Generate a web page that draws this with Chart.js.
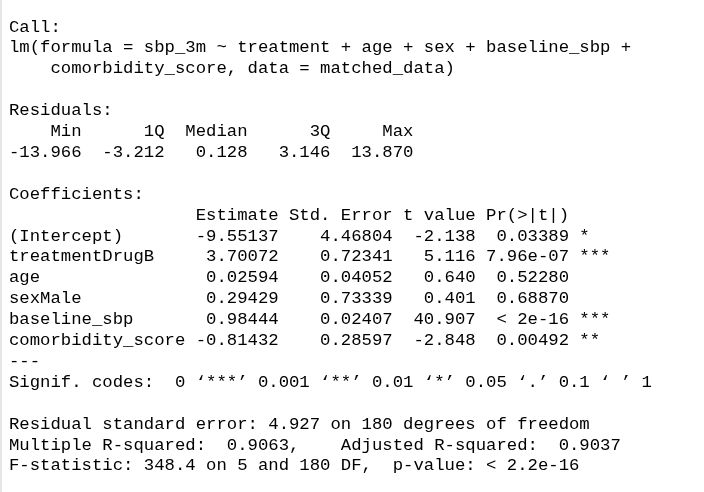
<!DOCTYPE html>
<html>
<head>
<meta charset="utf-8">
<script src="https://cdn.jsdelivr.net/npm/chart.js@4"></script>
<style>
  html, body { margin: 0; padding: 0; background: #fff; }
  #wrap { width: 704px; height: 492px; border-left: 2px solid #e6e6e6; box-sizing: border-box; }
</style>
</head>
<body>
<div id="wrap"><canvas id="out" width="702" height="492"></canvas></div>
<script>
const residLabels = ['Min', '1Q', 'Median', '3Q', 'Max'];
const residValues = ['-13.966', '-3.212', '0.128', '3.146', '13.870'];

const terms = ['(Intercept)', 'treatmentDrugB', 'age', 'sexMale', 'baseline_sbp', 'comorbidity_score'];
const estimates = ['-9.55137', '3.70072', '0.02594', '0.29429', '0.98444', '-0.81432'];
const stdErrors = ['4.46804', '0.72341', '0.04052', '0.73339', '0.02407', '0.28597'];
const tValues = ['-2.138', '5.116', '0.640', '0.401', '40.907', '-2.848'];
const pValues = ['0.03389', '7.96e-07', '0.52280', '0.68870', '< 2e-16', '0.00492'];
const stars = ['*', '***', '', '', '***', '**'];

const footer = [
  'Signif. codes:  0 \u2018***\u2019 0.001 \u2018**\u2019 0.01 \u2018*\u2019 0.05 \u2018.\u2019 0.1 \u2018 \u2019 1',
  '',
  'Residual standard error: 4.927 on 180 degrees of freedom',
  'Multiple R-squared:  0.9063,\tAdjusted R-squared:  0.9037 ',
  'F-statistic: 348.4 on 5 and 180 DF,  p-value: < 2.2e-16'
];

function buildLines() {
  const lines = [
    'Call:',
    'lm(formula = sbp_3m ~ treatment + age + sex + baseline_sbp + ',
    '    comorbidity_score, data = matched_data)',
    '',
    'Residuals:',
    residLabels.map(s => s.padStart(7)).join(' '),
    residValues.map(s => s.padStart(7)).join(' '),
    '',
    'Coefficients:',
    ''.padEnd(17) + 'Estimate'.padStart(9) + 'Std. Error'.padStart(11) + 't value'.padStart(8) + 'Pr(>|t|)'.padStart(9)
  ];
  terms.forEach((t, i) => {
    lines.push(t.padEnd(17) + estimates[i].padStart(9) + stdErrors[i].padStart(11) +
      tValues[i].padStart(8) + pValues[i].padStart(9) + ' ' + stars[i]);
  });
  lines.push('---');
  return lines.concat(footer).map(l => l.replace('\t', '    '));
}

const textPlugin = {
  id: 'consoleText',
  afterDraw(chart) {
    const ctx = chart.ctx;
    ctx.save();
    ctx.fillStyle = '#000';
    ctx.font = '17.3px "Liberation Mono", "DejaVu Sans Mono", monospace';
    ctx.textBaseline = 'middle';
    buildLines().forEach((l, i) => ctx.fillText(l, 7, 27 + i * 20.9));
    ctx.restore();
  }
};

new Chart(document.getElementById('out').getContext('2d'), {
  type: 'scatter',
  data: { datasets: [] },
  options: {
    responsive: false,
    animation: false,
    plugins: { legend: { display: false }, tooltip: { enabled: false } },
    scales: { x: { display: false }, y: { display: false } }
  },
  plugins: [textPlugin]
});
</script>
</body>
</html>
